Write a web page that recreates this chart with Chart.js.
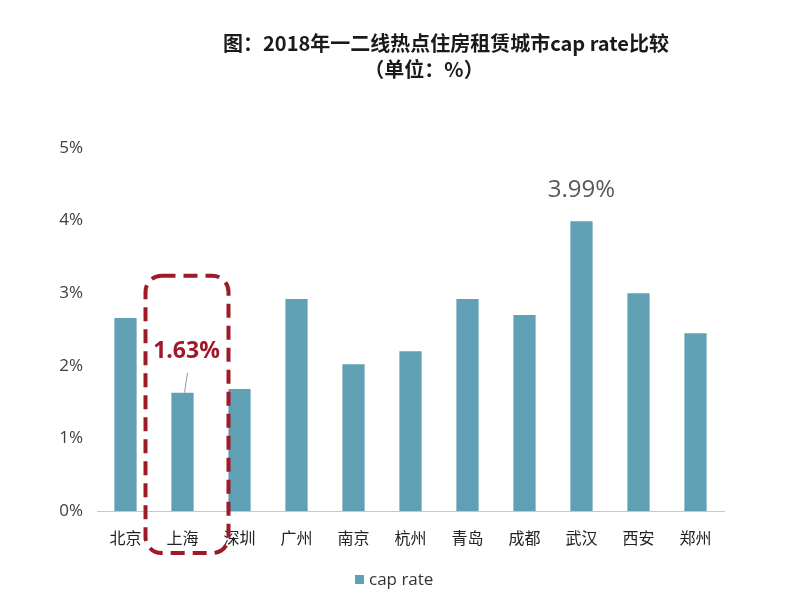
<!DOCTYPE html>
<html>
<head>
<meta charset="utf-8">
<script src="https://cdn.jsdelivr.net/npm/chart.js@4"></script>
<style>
  html, body { margin: 0; padding: 0; background: #fff; }
  #wrap { width: 800px; height: 616px; }
</style>
</head>
<body>
<div id="wrap"><canvas id="capChart" width="800" height="616"></canvas></div>
<script>
// city labels + cap rate values (%)
const cities = ['北京', '上海', '深圳', '广州', '南京', '杭州', '青岛', '成都', '武汉', '西安', '郑州'];
const capRates = [2.66, 1.63, 1.68, 2.92, 2.02, 2.2, 2.92, 2.7, 3.99, 3.0, 2.45];
const yTicks = [0, 1, 2, 3, 4, 5];

const BAR_COLOR = '#5fa0b4';
const RED = '#9e1a28';
const FONT = '"Noto Sans CJK SC", "Open Sans", sans-serif';

// title, legend and the two callouts
const overlay = {
  id: 'overlay',
  afterDraw(chart) {
    const ctx = chart.ctx;
    const x = chart.scales.x, y = chart.scales.y;
    ctx.save();

    // title
    ctx.fillStyle = '#1a1a1a';
    ctx.textAlign = 'center';
    ctx.textBaseline = 'middle';
    ctx.font = 'bold 20px ' + FONT;
    ctx.fillText('图：2018年一二线热点住房租赁城市cap rate比较', 446, 43);
    ctx.fillText('（单位：%）', 424, 69);

    // legend
    ctx.fillStyle = BAR_COLOR;
    ctx.fillRect(355, 575, 9, 9);
    ctx.fillStyle = '#333';
    ctx.textAlign = 'left';
    ctx.font = '17px "Open Sans", sans-serif';
    ctx.fillText(chart.data.datasets[0].label, 369, 580);

    // 武汉 max label
    const iMax = capRates.indexOf(Math.max(...capRates));
    ctx.textAlign = 'center';
    ctx.fillStyle = '#595959';
    ctx.font = '24px "Open Sans", sans-serif';
    ctx.fillText(capRates[iMax].toFixed(2) + '%', x.getPixelForValue(iMax), y.getPixelForValue(capRates[iMax]) - 31);

    // 上海 highlight box
    const cx = x.getPixelForValue(1);
    const top = y.getPixelForValue(3.24);
    const bottom = y.getPixelForValue(0) + 42;
    ctx.strokeStyle = RED;
    ctx.lineWidth = 4;
    ctx.setLineDash([14, 8]);
    ctx.beginPath();
    ctx.roundRect(cx - 37, top, 83, bottom - top, 16);
    ctx.stroke();
    ctx.setLineDash([]);

    // 上海 value + leader line
    const barTop = y.getPixelForValue(capRates[1]);
    ctx.strokeStyle = '#9a9a9a';
    ctx.lineWidth = 1;
    ctx.beginPath();
    ctx.moveTo(cx + 5, barTop - 20);
    ctx.lineTo(cx + 2, barTop);
    ctx.stroke();
    ctx.fillStyle = RED;
    ctx.font = 'bold 23px "Open Sans", sans-serif';
    ctx.fillText(capRates[1].toFixed(2) + '%', cx + 4, barTop - 41);

    ctx.restore();
  }
};

new Chart(document.getElementById('capChart'), {
  type: 'bar',
  data: {
    labels: cities,
    datasets: [{
      label: 'cap rate',
      data: capRates,
      backgroundColor: BAR_COLOR,
      borderWidth: 0,
      categoryPercentage: 1,
      barPercentage: 0.39
    }]
  },
  options: {
    responsive: false,
    animation: false,
    layout: { padding: { top: 148, right: 76, bottom: 0, left: 0 } },
    plugins: {
      legend: { display: false },
      tooltip: { enabled: false }
    },
    scales: {
      x: {
        grid: { display: false, drawTicks: false },
        border: { display: true, color: '#c8c8c8', width: 1 },
        ticks: { color: '#222', font: { family: FONT, size: 16 }, padding: 17 },
        afterFit: s => { s.height = 105; }
      },
      y: {
        min: 0,
        max: 5,
        afterBuildTicks: s => { s.ticks = yTicks.map(v => ({ value: v })); },
        grid: { display: false, drawTicks: false },
        border: { display: false },
        ticks: {
          color: '#404040',
          font: { family: '"Open Sans", sans-serif', size: 17 },
          padding: 14,
          callback: v => v + '%'
        },
        afterFit: s => { s.width = 97; }
      }
    }
  },
  plugins: [overlay]
});
</script>
</body>
</html>
